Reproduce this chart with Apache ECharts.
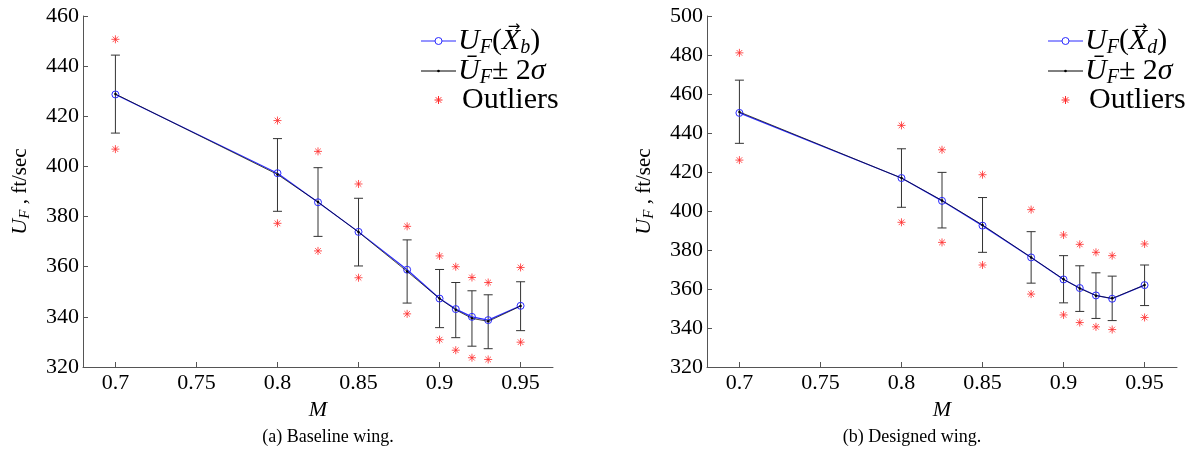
<!DOCTYPE html>
<html>
<head>
<meta charset="utf-8">
<script src="https://cdn.jsdelivr.net/npm/echarts@6/dist/echarts.min.js"></script>
<style>
  html, body { margin: 0; padding: 0; background: #fff; }
  #chart { width: 1193px; height: 462px; }
</style>
</head>
<body>
<div id="chart"></div>
<script>
// Mach numbers (x axis)
var machs = [0.7, 0.8, 0.825, 0.85, 0.88, 0.9, 0.91, 0.92, 0.93, 0.95];
var machTicks = [0.7, 0.75, 0.8, 0.85, 0.9, 0.95];

// (a) baseline wing
var ufBase = [428.7, 397.3, 385.7, 373.9, 358.8, 347.3, 343.1, 340.0, 338.7, 344.4];
var ubarBase = [428.9, 396.8, 385.8, 373.8, 358.1, 347.3, 342.8, 339.4, 338.2, 344.3];
var hiBase = [444.4, 411.1, 399.5, 387.3, 370.7, 358.9, 353.7, 350.4, 348.8, 354.0];
var loBase = [413.3, 382.1, 372.1, 360.3, 345.5, 335.7, 331.7, 328.3, 327.3, 334.5];
var outHiBase = [450.7, 418.3, 406.0, 393.0, 376.1, 364.3, 360.0, 355.7, 353.7, 359.7];
var outLoBase = [406.9, 377.3, 366.3, 355.6, 341.2, 330.9, 326.7, 323.7, 323.0, 329.9];

// (b) designed wing
var ufDes = [450.3, 416.9, 405.2, 392.5, 376.2, 364.9, 360.5, 356.7, 355.0, 362.0];
var ubarDes = [450.8, 416.9, 405.4, 392.8, 376.2, 365.0, 360.3, 356.6, 355.2, 362.0];
var hiDes = [467.1, 431.9, 419.8, 406.9, 389.4, 377.1, 371.9, 368.3, 366.6, 372.3];
var loDes = [434.7, 401.9, 391.3, 378.8, 363.0, 352.9, 348.5, 344.9, 343.8, 351.5];
var outHiDes = [481.1, 443.9, 431.4, 418.6, 400.7, 387.7, 382.9, 378.8, 377.1, 383.1];
var outLoDes = [426.1, 394.2, 383.9, 372.3, 357.4, 346.7, 342.8, 340.6, 339.2, 345.4];

var serif = 'Liberation Serif';
var axisGray = '#555';
var blue = '#2a2aff';
var red = '#ff2a2a';
// asterisk marker like matlab '*'
var starPath = 'path://M0,-5L0,5M-5,0L5,0M-3.5,-3.5L3.5,3.5M-3.5,3.5L3.5,-3.5';

function pairs(xs, ys) {
  return xs.map(function (x, i) { return [x, ys[i]]; });
}

// text width helper (for the vector arrow over X in the legend)
var measureCtx = document.createElement('canvas').getContext('2d');
function textW(font, s) {
  measureCtx.font = font;
  return measureCtx.measureText(s).width;
}

function errBar(params, api) {
  var x = api.value(0);
  var pLo = api.coord([x, api.value(1)]);
  var pHi = api.coord([x, api.value(2)]);
  var w = 4.5;
  var st = { stroke: '#333', lineWidth: 1 };
  return {
    type: 'group',
    children: [
      { type: 'line', shape: { x1: pLo[0], y1: pLo[1], x2: pHi[0], y2: pHi[1] }, style: st },
      { type: 'line', shape: { x1: pLo[0] - w, y1: pLo[1], x2: pLo[0] + w, y2: pLo[1] }, style: st },
      { type: 'line', shape: { x1: pHi[0] - w, y1: pHi[1], x2: pHi[0] + w, y2: pHi[1] }, style: st }
    ]
  };
}

function xAxisCfg(idx) {
  return {
    type: 'value', gridIndex: idx, min: 0.68, max: 0.97,
    name: 'M', nameLocation: 'middle', nameGap: 28,
    nameTextStyle: { fontFamily: serif, fontStyle: 'italic', fontSize: 22, color: '#000' },
    axisLine: { lineStyle: { color: axisGray, width: 1 } },
    axisTick: { inside: true, length: 5, customValues: machTicks, lineStyle: { color: axisGray } },
    axisLabel: {
      customValues: machTicks, margin: 5,
      fontFamily: serif, fontSize: 22, color: '#000',
      formatter: function (v) { return String(+v.toFixed(2)); }
    },
    splitLine: { show: false }
  };
}

function yAxisCfg(idx, max) {
  return {
    type: 'value', gridIndex: idx, min: 320, max: max, interval: 20,
    name: '{i|U}{s|F}{r| , ft/sec}', nameLocation: 'middle', nameGap: 50, nameRotate: 90,
    nameTextStyle: {
      color: '#000',
      rich: {
        i: { fontFamily: serif, fontStyle: 'italic', fontSize: 22 },
        s: { fontFamily: serif, fontStyle: 'italic', fontSize: 15, padding: [10, 0, 0, 0] },
        r: { fontFamily: serif, fontSize: 21 }
      }
    },
    axisLine: { show: true, lineStyle: { color: axisGray, width: 1 } },
    axisTick: { show: true, inside: true, length: 5, lineStyle: { color: axisGray } },
    axisLabel: { margin: 4, fontFamily: serif, fontSize: 22, color: '#000' },
    splitLine: { show: false }
  };
}

// legend drawn by hand to get the matlab look (line+marker samples, math text)
var legFont = 30, legSub = 20;
var legRich = {
  it: { fontFamily: serif, fontStyle: 'italic', fontSize: legFont, fill: '#000' },
  sub: { fontFamily: serif, fontStyle: 'italic', fontSize: legSub, fill: '#000', padding: [14, 0, 0, 0] },
  rm: { fontFamily: serif, fontSize: legFont, fill: '#000' }
};

function legendGraphic(x0, tag) {
  var rows = [41, 71, 100];
  var xm = x0 + 17.5, tx = x0 + 37;
  var itF = 'italic ' + legFont + 'px ' + serif;
  var xPos = tx + textW(itF, 'U') + textW('italic ' + legSub + 'px ' + serif, 'F') +
    textW(legFont + 'px ' + serif, '(');
  var xW = textW(itF, 'X');
  var st = { stroke: red, lineWidth: 1 };
  var s = 4, d = 2.8;
  return [
    { type: 'line', shape: { x1: x0, y1: rows[0], x2: x0 + 35, y2: rows[0] }, style: { stroke: blue, lineWidth: 1 } },
    { type: 'circle', shape: { cx: xm, cy: rows[0], r: 3.5 }, style: { fill: '#fff', stroke: blue, lineWidth: 1 } },
    { type: 'text', x: tx, y: rows[0], style: {
      text: '{it|U}{sub|F}{rm|(}{it|X}{sub|' + tag + '}{rm|)}', rich: legRich, verticalAlign: 'middle' } },
    { type: 'text', x: xPos + xW * 0.5 + 3, y: rows[0] - 14, style: {
      text: '\u2192', font: '15px DejaVu Sans', fill: '#000', align: 'center', verticalAlign: 'middle' } },
    { type: 'line', shape: { x1: x0, y1: rows[1], x2: x0 + 35, y2: rows[1] }, style: { stroke: '#000', lineWidth: 1 } },
    { type: 'circle', shape: { cx: xm, cy: rows[1], r: 1.3 }, style: { fill: '#000' } },
    { type: 'text', x: tx, y: rows[1], style: {
      text: '{it|\u016A}{sub|F}{rm|\u00B1 2}{it|\u03C3}', rich: legRich, verticalAlign: 'middle' } },
    { type: 'group', x: xm, y: rows[2], children: [
      { type: 'line', shape: { x1: 0, y1: -s, x2: 0, y2: s }, style: st },
      { type: 'line', shape: { x1: -s, y1: 0, x2: s, y2: 0 }, style: st },
      { type: 'line', shape: { x1: -d, y1: -d, x2: d, y2: d }, style: st },
      { type: 'line', shape: { x1: -d, y1: d, x2: d, y2: -d }, style: st }
    ] },
    { type: 'text', x: tx + 4, y: rows[2], style: {
      text: 'Outliers', font: legFont + 'px ' + serif, fill: '#000', verticalAlign: 'middle' } }
  ];
}

function seriesFor(idx, uf, ubar, lo, hi, outHi, outLo, tag) {
  return [
    {
      type: 'custom', name: 'err' + tag, xAxisIndex: idx, yAxisIndex: idx,
      renderItem: errBar, encode: { x: 0, y: [1, 2] },
      data: machs.map(function (m, i) { return [m, lo[i], hi[i]]; }), z: 1
    },
    {
      type: 'line', name: 'uf' + tag, xAxisIndex: idx, yAxisIndex: idx,
      data: pairs(machs, uf), symbol: 'circle', symbolSize: 7,
      lineStyle: { color: blue, width: 1.2 },
      itemStyle: { color: 'rgba(255,255,255,0)', borderColor: blue, borderWidth: 1 }, z: 2
    },
    {
      type: 'line', name: 'ubar' + tag, xAxisIndex: idx, yAxisIndex: idx,
      data: pairs(machs, ubar), symbol: 'circle', symbolSize: 2.5,
      lineStyle: { color: '#000', width: 0.7 },
      itemStyle: { color: '#000', borderWidth: 0 }, z: 3
    },
    {
      type: 'scatter', name: 'out' + tag, xAxisIndex: idx, yAxisIndex: idx,
      data: pairs(machs, outHi).concat(pairs(machs, outLo)),
      symbol: starPath, symbolSize: 8,
      itemStyle: { color: 'none', borderColor: red, borderWidth: 1 }, z: 4
    }
  ];
}

var chart = echarts.init(document.getElementById('chart'));
var option = {
  animation: false,
  backgroundColor: '#fff',
  grid: [
    { left: 83, right: 640, top: 16, bottom: 95 },
    { left: 707, right: 16, top: 16, bottom: 95 }
  ],
  xAxis: [xAxisCfg(0), xAxisCfg(1)],
  yAxis: [yAxisCfg(0, 460), yAxisCfg(1, 500)],
  graphic: legendGraphic(421, 'b').concat(legendGraphic(1048, 'd')).concat([
    { type: 'text', x: 328, y: 437, style: { text: '(a) Baseline wing.', font: '18px ' + serif, fill: '#000', align: 'center', verticalAlign: 'middle' } },
    { type: 'text', x: 912, y: 437, style: { text: '(b) Designed wing.', font: '18px ' + serif, fill: '#000', align: 'center', verticalAlign: 'middle' } }
  ]),
  series: []
    .concat(seriesFor(0, ufBase, ubarBase, loBase, hiBase, outHiBase, outLoBase, 'b'))
    .concat(seriesFor(1, ufDes, ubarDes, loDes, hiDes, outHiDes, outLoDes, 'd'))
};
chart.setOption(option);
</script>
</body>
</html>
